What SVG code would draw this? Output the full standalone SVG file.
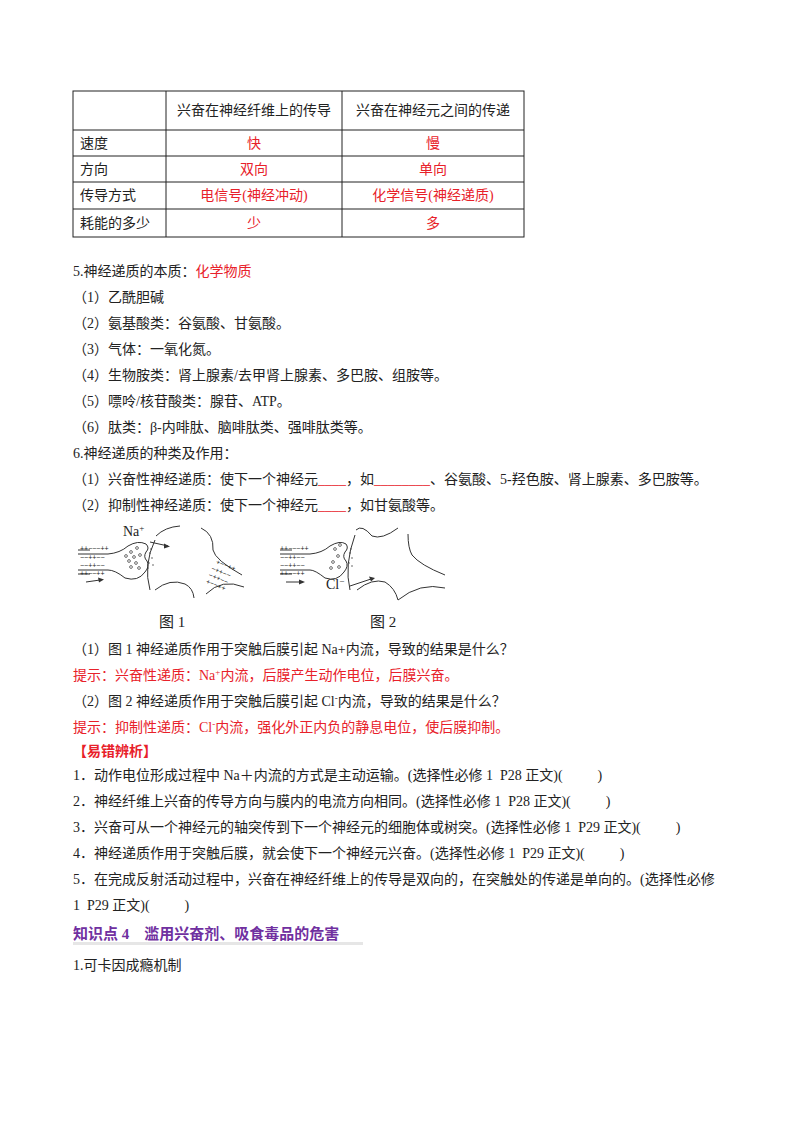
<svg xmlns="http://www.w3.org/2000/svg" width="800" height="1132" viewBox="0 0 800 1132">
<style>
text{font-family:"Liberation Serif","Noto Sans CJK SC",serif;font-size:14px;fill:#222;white-space:pre}
.r{fill:#e8212a}
.c{text-anchor:middle}
.b{font-weight:bold}
.g{fill:none;stroke:#333;stroke-width:1}
.f{font-size:7px;font-family:"Liberation Sans",sans-serif}
.v{fill:none;stroke:#333;stroke-width:0.7}
</style>
<rect width="800" height="1132" fill="#fff"/>
<g id="table" stroke="#222" stroke-width="1" fill="none">
<rect x="73" y="91" width="451" height="146"/>
<line x1="73" y1="130" x2="524" y2="130"/><line x1="73" y1="156" x2="524" y2="156"/>
<line x1="73" y1="182" x2="524" y2="182"/><line x1="73" y1="209" x2="524" y2="209"/>
<line x1="166" y1="91" x2="166" y2="237"/><line x1="342" y1="91" x2="342" y2="237"/>
</g>
<g id="table-text">
<text x="254" y="115" class="c">兴奋在神经纤维上的传导</text><text x="433" y="115" class="c">兴奋在神经元之间的传递</text>
<text x="80" y="148">速度</text><text x="254" y="148" class="c r">快</text><text x="433" y="148" class="c r">慢</text>
<text x="80" y="174">方向</text><text x="254" y="174" class="c r">双向</text><text x="433" y="174" class="c r">单向</text>
<text x="80" y="200">传导方式</text><text x="254" y="200" class="c r">电信号(神经冲动)</text><text x="433" y="200" class="c r">化学信号(神经递质)</text>
<text x="80" y="228">耗能的多少</text><text x="254" y="228" class="c r">少</text><text x="433" y="228" class="c r">多</text>
</g>
<g id="body">
<text x="73" y="276">5.神经递质的本质：<tspan class="r">化学物质</tspan></text>
<text x="73" y="302">（1）乙酰胆碱</text>
<text x="73" y="328">（2）氨基酸类：谷氨酸、甘氨酸。</text>
<text x="73" y="354">（3）气体：一氧化氮。</text>
<text x="73" y="380">（4）生物胺类：肾上腺素/去甲肾上腺素、多巴胺、组胺等。</text>
<text x="73" y="406">（5）嘌呤/核苷酸类：腺苷、ATP。</text>
<text x="73" y="432">（6）肽类：β-内啡肽、脑啡肽类、强啡肽类等。</text>
<text x="73" y="458">6.神经递质的种类及作用：</text>
<text x="73" y="484">（1）兴奋性神经递质：使下一个神经元<tspan class="r">____</tspan>，如<tspan class="r">________</tspan>、谷氨酸、5-羟色胺、肾上腺素、多巴胺等。</text>
<text x="73" y="510">（2）抑制性神经递质：使下一个神经元<tspan class="r">____</tspan>，如甘氨酸等。</text>
</g>
<g id="fig1">
<path class="g" d="M78,554 L108,554 Q120,553 128,546 Q138,540 146,544 Q150,548 146,552 Q143,557 147,561 Q150,566 145,572 Q138,582 125,578 Q115,570 108,570 L78,570"/>
<path class="g" d="M78,550 L90,550 M78,574 L90,574"/>
<path class="g" d="M155,540 Q143,565 150,590"/>
<path class="g" d="M156,536 Q165,527 180,526"/>
<path class="g" d="M201,528 Q214,534 213,550 Q215,560 242,575"/>
<path class="g" d="M244,587 Q222,578 206,594"/>
<path class="g" d="M155,590 Q170,578 185,584 Q193,588 194,598"/>
<g class="v"><circle cx="131" cy="552" r="1.4"/><circle cx="137" cy="548" r="1.4"/><circle cx="134" cy="557" r="1.4"/><circle cx="140" cy="555" r="1.4"/><circle cx="129" cy="561" r="1.4"/><circle cx="136" cy="563" r="1.4"/><circle cx="131" cy="567" r="1.4"/><circle cx="139" cy="568" r="1.4"/><circle cx="126" cy="556" r="1.4"/></g>
<g fill="#333"><circle cx="150" cy="553" r="0.7"/><circle cx="152" cy="558" r="0.7"/><circle cx="149" cy="563" r="0.7"/><circle cx="153" cy="565" r="0.7"/><circle cx="148" cy="568" r="0.7"/><circle cx="151" cy="549" r="0.7"/></g>
<line x1="150" y1="542" x2="168" y2="546" stroke="#333"/><path d="M170,546.5 l-6,-3 l0,5z" fill="#333"/>
<text x="123" y="536">Na<tspan dy="-5" style="font-size:9px">+</tspan></text>
<text x="80" y="551" class="f">++−−−++</text><text x="80" y="560" class="f">−−++−−</text><text x="80" y="568" class="f">−−++−−</text><text x="80" y="576" class="f">++−−++</text>
<line x1="86" y1="582" x2="100" y2="580" stroke="#333"/><path d="M104,579.5 l-6,-2 l1,5z" fill="#333"/>
<g transform="rotate(22 225 575)"><text x="212" y="568" class="f">+−−++</text><text x="210" y="576" class="f">−++−−</text><text x="210" y="583" class="f">−++−−</text><text x="210" y="590" class="f">+−−++</text></g>
<text x="159" y="627" style="font-size:15px">图 1</text>
</g>
<g id="fig2">
<path class="g" d="M280,554 L310,554 Q322,553 330,546 Q340,540 346,544 Q349,548 345,552 Q342,557 346,561 Q349,566 344,572 Q337,582 325,578 Q315,570 310,570 L280,570"/>
<path class="g" d="M280,550 L292,550 M280,574 L292,574"/>
<path class="g" d="M355,535 Q344,565 350,590"/>
<path class="g" d="M356,530 Q362,524 372,536 Q382,540 398,528"/>
<path class="g" d="M408,534 Q408,548 412,555 Q420,565 445,575"/>
<path class="g" d="M445,588 Q420,582 398,600"/>
<path class="g" d="M357,590 Q372,578 385,582 Q395,588 398,600"/>
<g class="v"><circle cx="335" cy="549" r="1.4"/><circle cx="338" cy="556" r="1.4"/><circle cx="333" cy="562" r="1.4"/><circle cx="339" cy="567" r="1.4"/><circle cx="331" cy="568" r="1.4"/><circle cx="340" cy="545" r="1.4"/></g>
<g fill="#333"><circle cx="350" cy="553" r="0.7"/><circle cx="352" cy="558" r="0.7"/><circle cx="349" cy="563" r="0.7"/><circle cx="352" cy="566" r="0.7"/><circle cx="351" cy="549" r="0.7"/></g>
<line x1="350" y1="586" x2="371" y2="579" stroke="#333"/><path d="M375,578 l-6,-1.5 l2,5z" fill="#333"/>
<text x="326" y="589">Cl<tspan dy="-5" style="font-size:9px">−</tspan></text>
<text x="280" y="551" class="f">++−−−++</text><text x="280" y="560" class="f">−−++−−</text><text x="280" y="568" class="f">−−++−−</text><text x="280" y="576" class="f">++−−++</text>
<line x1="286" y1="582" x2="301" y2="582" stroke="#333"/><path d="M305,582 l-6,-2.5 l0,5z" fill="#333"/>
<text x="370" y="627" style="font-size:15px">图 2</text>
</g>
<g id="qa">
<text x="73" y="654">（1）图 1 神经递质作用于突触后膜引起 Na+内流，导致的结果是什么？</text>
<text x="73" y="680" class="r">提示：兴奋性递质：Na<tspan dy="-5" style="font-size:9px">+</tspan><tspan dy="5">内流，后膜产生动作电位，后膜兴奋。</tspan></text>
<text x="73" y="706">（2）图 2 神经递质作用于突触后膜引起 Cl<tspan dy="-5" style="font-size:9px">-</tspan><tspan dy="5">内流，导致的结果是什么？</tspan></text>
<text x="73" y="732" class="r">提示：抑制性递质：Cl<tspan dy="-5" style="font-size:9px">-</tspan><tspan dy="5">内流，强化外正内负的静息电位，使后膜抑制。</tspan></text>
<text x="73" y="756" class="r b">【易错辨析】</text>
<text x="73" y="780">1．动作电位形成过程中 Na＋内流的方式是主动运输。(选择性必修 1  P28 正文)(          )</text>
<text x="73" y="806">2．神经纤维上兴奋的传导方向与膜内的电流方向相同。(选择性必修 1  P28 正文)(          )</text>
<text x="73" y="832">3．兴奋可从一个神经元的轴突传到下一个神经元的细胞体或树突。(选择性必修 1  P29 正文)(          )</text>
<text x="73" y="858">4．神经递质作用于突触后膜，就会使下一个神经元兴奋。(选择性必修 1  P29 正文)(          )</text>
<text x="73" y="884">5．在完成反射活动过程中，兴奋在神经纤维上的传导是双向的，在突触处的传递是单向的。(选择性必修</text>
<text x="73" y="910">1  P29 正文)(          )</text>
<rect x="73" y="942" width="290" height="3" fill="#e6e6e6"/>
<text x="73" y="939" class="b" style="fill:#7030a0;font-size:15px">知识点 4　滥用兴奋剂、吸食毒品的危害</text>
<text x="73" y="970">1.可卡因成瘾机制</text>
</g>
</svg>
